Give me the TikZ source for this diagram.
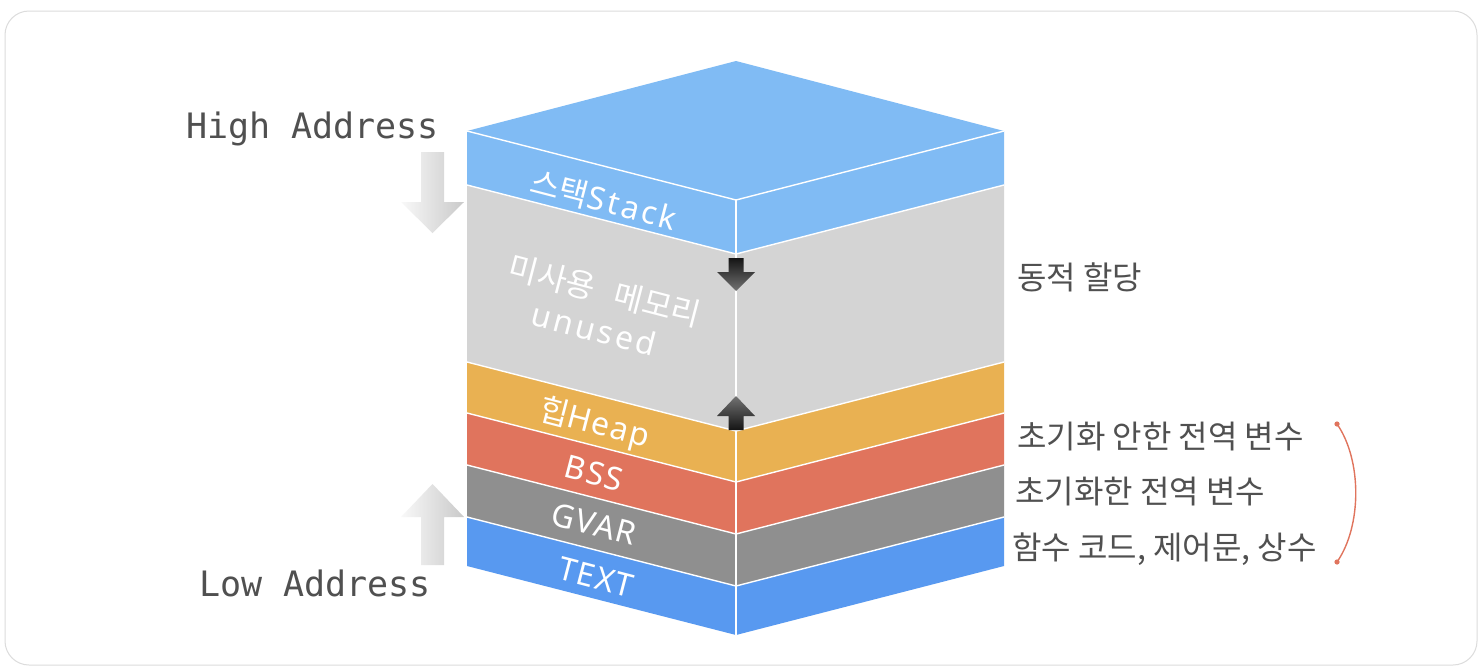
\documentclass[tikz,border=0pt]{standalone}
\usepackage{fontspec}
\newfontfamily\kr{Noto Sans CJK KR}
\newfontfamily\lat[LetterSpace=4]{Noto Sans}
\newfontfamily\latw[LetterSpace=9]{Noto Sans}
\newfontfamily\mono{DejaVu Sans Mono}
\definecolor{topblue}{HTML}{80BBF4}
\definecolor{unusedgray}{HTML}{D4D4D4}
\definecolor{heapc}{HTML}{E9B152}
\definecolor{bssc}{HTML}{E0745D}
\definecolor{gvarc}{HTML}{8F8F8F}
\definecolor{textc}{HTML}{5899F0}
\definecolor{frameg}{HTML}{DCDCDC}
\definecolor{txtg}{HTML}{505050}
\tikzset{
  edge/.style={draw=white, line width=1.4pt, line join=round},
  lab/.style={text=white, inner sep=0pt, rotate=-14.6, font=\fontsize{32}{34}\selectfont},
  desc/.style={text=txtg, inner sep=0pt, anchor=base west, font=\kr\fontsize{32}{36}\selectfont},
  addr/.style={text=txtg, inner sep=0pt, anchor=base west, font=\mono\fontsize{35}{40}\selectfont},
  bigarrow/.style={left color=gray!5, right color=gray!42, draw=none},
  darkdown/.style={top color=black!92, bottom color=black!55, draw=none},
  darkup/.style={top color=black!55, bottom color=black!92, draw=none},
  brace/.style={draw=bssc, line width=1.4pt}
}
\begin{document}
\begin{tikzpicture}[x=1pt,y=-1pt]
\useasboundingbox (0,0) rectangle (1482,670);
\fill[white] (0,0) rectangle (1482,670);
\draw[frameg, line width=1pt, rounded corners=24pt] (5,11) rectangle (1477,665);

% top face
\fill[topblue] (467,131) -- (736,61) -- (1004,131) -- (736,200) -- cycle;
% layers
\foreach \t/\b/\c in {131/185/topblue, 185/362/unusedgray, 362/413/heapc, 413/465/bssc, 465/517/gvarc, 517/566/textc}{
  \fill[\c] (467,\t) -- (736,\t+69) -- (1004,\t) -- (1004,\b) -- (736,\b+69) -- (467,\b) -- cycle;
}
% white edges
\foreach \y in {131,185,362,413,465,517}{
  \draw[edge] (467,\y) -- (736,\y+69) -- (1004,\y);
}
\draw[edge] (736,200) -- (736,635);

% labels on left face
\node[lab] (stack) at (604,200) {\kr 스택\latw Stack};
\node[lab] (unused1) at (605,291) {\kr 미사용\hspace{20pt}메모리};
\node[lab] (unused2) at (594,329) {\latw unused};
\node[lab] (heap) at (594,424) {\kr 힙\lat Heap};
\node[lab] (bss) at (594,473) {\lat BSS};
\node[lab] (gvar) at (594,524) {\lat GVAR};
\node[lab] (text) at (596,577) {\lat TEXT};

% small dark arrows
\path[darkdown] (728.5,258) -- (743.5,258) -- (743.5,272) -- (755,272) -- (736,291) -- (717,272) -- (728.5,272) -- cycle;
\path[darkup] (736,396) -- (755,416) -- (743.5,416) -- (743.5,430) -- (728.5,430) -- (728.5,416) -- (717,416) -- cycle;

% big gray arrows
\path[bigarrow] (421,152) -- (444,152) -- (444,202) -- (464,202) -- (432.5,233) -- (401,202) -- (421,202) -- cycle;
\path[bigarrow] (432.5,484) -- (464,517) -- (444,517) -- (444,565) -- (421,565) -- (421,517) -- (401,517) -- cycle;

% address labels
\node[addr] (high) at (186,138) {High Address};
\node[addr] (low) at (199,596) {Low Address};

% right descriptions
\node[desc] (dyn) at (1017,289) {동적 할당};
\node[desc] (bssd) at (1017,448) {초기화 안한 전역 변수};
\node[desc] (gvard) at (1015,503) {초기화한 전역 변수};
\node[desc] (textd) at (1012,559) {함수 코드, 제어문, 상수};

% bracket
\coordinate (bt) at (1337,424);
\coordinate (bb) at (1337,562);
\draw[brace] (bt) .. controls (1362,460) and (1362,526) .. (bb);
\fill[bssc] (bt) circle (2.6);
\fill[bssc] (bb) circle (2.6);
\end{tikzpicture}
\end{document}
